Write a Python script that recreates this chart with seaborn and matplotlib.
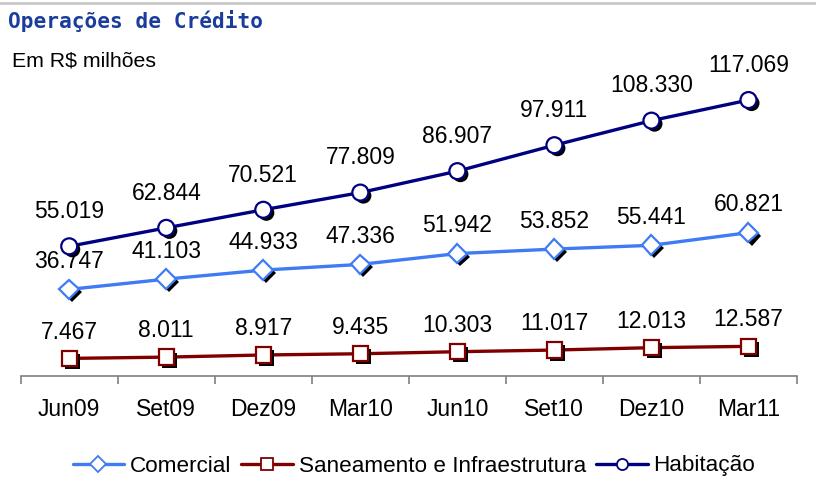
import matplotlib
matplotlib.use("Agg")
import matplotlib.pyplot as plt
import matplotlib.patheffects as pe
from matplotlib.lines import Line2D
import numpy as np
import pandas as pd
import seaborn as sns

periods = ["Jun09", "Set09", "Dez09", "Mar10", "Jun10", "Set10", "Dez10", "Mar11"]
comercial = [36.747, 41.103, 44.933, 47.336, 51.942, 53.852, 55.441, 60.821]
saneamento = [7.467, 8.011, 8.917, 9.435, 10.303, 11.017, 12.013, 12.587]
habitacao = [55.019, 62.844, 70.521, 77.809, 86.907, 97.911, 108.330, 117.069]
series_names = ["Comercial", "Saneamento e Infraestrutura", "Habitação"]

sns.set_style("white")
plt.rcParams["font.family"] = ["Liberation Sans", "DejaVu Sans"]

colors = {"Comercial": "#3F7BF5", "Saneamento e Infraestrutura": "#800000", "Habitação": "#000080"}
markers = {"Comercial": "D", "Saneamento e Infraestrutura": "s", "Habitação": "o"}
msizes = {"Comercial": 10, "Saneamento e Infraestrutura": 11, "Habitação": 11.5}
label_off = {"Comercial": 20, "Saneamento e Infraestrutura": 19, "Habitação": 25}

df = pd.DataFrame({
    "x": np.tile(np.arange(len(periods)), 3),
    "periodo": periods * 3,
    "valor": comercial + saneamento + habitacao,
    "serie": np.repeat(series_names, len(periods)),
})

fig = plt.figure(figsize=(8.16, 4.83), dpi=100)
ax = fig.add_axes([20.7 / 816, 1 - 376 / 483, (797 - 20.7) / 816, (376 - 46) / 483])

shadow = [pe.SimplePatchShadow(offset=(2.2, -2.2), shadow_rgbFace="black", alpha=1.0), pe.Normal()]

for i, name in enumerate(series_names):
    sub = df[df["serie"] == name]
    sns.lineplot(data=sub, x="x", y="valor", ax=ax, color=colors[name],
                 linewidth=2.4, sort=False, zorder=2 + i, legend=False)
for i, name in enumerate(series_names):
    sub = df[df["serie"] == name]
    sns.lineplot(data=sub, x="x", y="valor", ax=ax, color=colors[name],
                 linestyle="", marker=markers[name], markersize=msizes[name],
                 markerfacecolor="white", markeredgecolor=colors[name],
                 markeredgewidth=1.6, sort=False, zorder=5 + i, legend=False,
                 path_effects=shadow)
    for xv, yv in zip(sub["x"], sub["valor"]):
        ax.annotate(f"{yv:.3f}", (xv, yv), xytext=(0, label_off[name]),
                    textcoords="offset points", ha="center", va="center",
                    fontsize=16.5, color="black")

ax.set_xlim(-0.5, len(periods) - 0.5)
ax.set_ylim(0, 140)
ax.set_xticks(np.arange(len(periods)))
ax.set_xticklabels(periods, fontsize=16.5, color="black")
ax.set_xticks(np.arange(len(periods) + 1) - 0.5, minor=True)
ax.tick_params(axis="x", which="major", bottom=True, length=0, pad=16)
ax.tick_params(axis="x", which="minor", bottom=True, length=6, width=1.2,
               color="#808080", direction="out")
ax.set_yticks([])
ax.set_xlabel("")
ax.set_ylabel("")
for s in ["top", "right", "left"]:
    ax.spines[s].set_visible(False)
ax.spines["bottom"].set_color("#808080")
ax.spines["bottom"].set_linewidth(1.2)

handles = [Line2D([0], [0], color=colors[n], linewidth=2.4, marker=markers[n],
                  markersize=8, markerfacecolor="white", markeredgecolor=colors[n],
                  markeredgewidth=1.3) for n in series_names]
leg = fig.legend(handles, series_names, loc="center", bbox_to_anchor=(414 / 816, 1 - 466 / 483),
                 ncol=3, frameon=False, fontsize=16.2, handlelength=2.3, handletextpad=0.25,
                 columnspacing=0.45)
for t in leg.get_texts():
    t.set_color("black")

fig.text(8 / 816, 1 - 21 / 483, "Operações de Crédito", family="DejaVu Sans Mono",
         fontweight="bold", fontsize=15.2, color="#1A3C9C", va="center", ha="left")
fig.text(12 / 816, 1 - 61 / 483, "Em R$ milhões", fontsize=15.3, va="center", ha="left",
         color="black")
fig.add_artist(Line2D([0, 1], [1 - 3 / 483, 1 - 3 / 483], color="#C8C8C8", linewidth=2,
                      transform=fig.transFigure))

fig.savefig("out.png", dpi=100)
